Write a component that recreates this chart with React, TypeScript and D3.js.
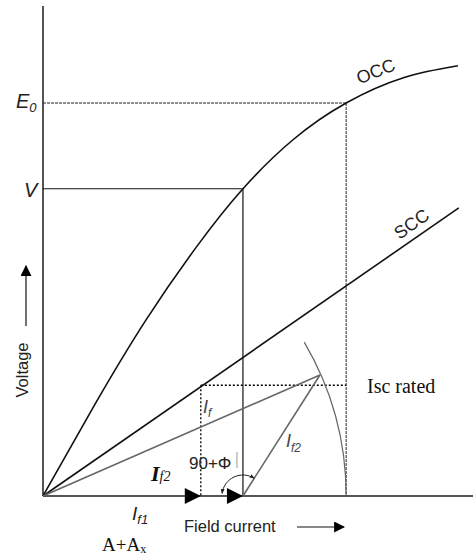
import * as d3 from "d3";

// Open-circuit characteristic (field current units, voltage units)
const occField = [0, 12, 24, 36, 46.5, 58, 70.5, 84, 96.5];
const occVolt = [0, 18.6, 36.0, 51.2, 62.7, 72.6, 80.2, 85.4, 87.8];

// Short-circuit characteristic (straight line)
const sccField = [0, 96.7];
const sccCurrent = [0, 58.8];

// Key operating points
const fieldV = 46.5; // field current giving V on the OCC
const voltV = 62.7;
const fieldE0 = 70.5; // resultant field current giving E0
const voltE0 = 80.2;
const fieldIf1 = 36.7; // field for rated short-circuit current
const iscRated = 22.6;
const phasorTip = { field: 64.4, volt: 24.7 };
const arcSpanDeg = 30.5;

const W = 476;
const H = 555;

const SANS = "'Liberation Sans', Arial, sans-serif";
const SERIF = "'Liberation Serif', 'Times New Roman', serif";

export default function App() {
  const x = d3.scaleLinear().domain([0, 100]).range([43, 473]);
  const y = d3.scaleLinear().domain([0, 100]).range([496, 6]);

  const occData = occField.map((f, i) => [f, occVolt[i]] as [number, number]);
  const sccData = sccField.map((f, i) => [f, sccCurrent[i]] as [number, number]);

  const occLine = d3
    .line<[number, number]>()
    .x((d) => x(d[0]))
    .y((d) => y(d[1]))
    .curve(d3.curveNatural);
  const straight = d3
    .line<[number, number]>()
    .x((d) => x(d[0]))
    .y((d) => y(d[1]));

  const ox = x(0);
  const oy = y(0);

  // big arc centred on the origin through E0's field current
  const r = x(fieldE0) - ox;
  const bigArc = d3.path();
  const a0 = (-arcSpanDeg * Math.PI) / 180;
  bigArc.moveTo(ox + r * Math.cos(a0), oy + r * Math.sin(a0));
  bigArc.arc(ox, oy, r, a0, 0, false);

  // angle arc (90 + phi) at the V field current
  const cx = x(fieldV);
  const tipX = x(phasorTip.field);
  const tipY = y(phasorTip.volt);
  const ang1 = Math.atan2(tipY - oy, tipX - cx);
  const ang2 = (-173 * Math.PI) / 180;
  const ar = 21;
  const angArc = d3.path();
  angArc.moveTo(cx + ar * Math.cos(ang1), oy + ar * Math.sin(ang1));
  angArc.arc(cx, oy, ar, ang1, ang2, true);

  const tri = (tip: number) =>
    `M${tip},${oy} L${tip - 16},${oy - 8} L${tip - 16},${oy + 8} Z`;

  return (
    <svg
      width={W}
      height={H}
      style={{ position: "absolute", left: 0, top: 0, background: "#fff" }}
    >
      <defs>
        <marker
          id="small"
          viewBox="0 0 10 10"
          refX="9"
          refY="5"
          markerWidth="5"
          markerHeight="5"
          orient="auto-start-reverse"
        >
          <path d="M0,1 L10,5 L0,9 Z" fill="#222" />
        </marker>
        <marker
          id="head"
          viewBox="0 0 10 10"
          refX="9"
          refY="5"
          markerWidth="11"
          markerHeight="11"
          markerUnits="userSpaceOnUse"
          orient="auto"
        >
          <path d="M0,0 L10,5 L0,10 Z" fill="#000" />
        </marker>
      </defs>

      {/* Axes */}
      <line x1={ox} y1={y(100)} x2={ox} y2={oy} stroke="#555" strokeWidth={2} />
      <line x1={ox} y1={oy} x2={x(100)} y2={oy} stroke="#555" strokeWidth={2} />

      {/* E0 dashed guides */}
      <line x1={ox} y1={y(voltE0)} x2={x(fieldE0)} y2={y(voltE0)} stroke="#222" strokeWidth={1} strokeDasharray="3,1" />
      <line x1={x(fieldE0)} y1={y(voltE0)} x2={x(fieldE0)} y2={oy} stroke="#222" strokeWidth={1} strokeDasharray="3,1" />

      {/* V guides */}
      <line x1={ox} y1={y(voltV)} x2={x(fieldV)} y2={y(voltV)} stroke="#111" strokeWidth={1.2} />
      <line x1={x(fieldV)} y1={y(voltV)} x2={x(fieldV)} y2={oy} stroke="#111" strokeWidth={1.2} />

      {/* Isc rated dotted guides */}
      <line x1={x(fieldIf1)} y1={y(iscRated)} x2={x(fieldE0)} y2={y(iscRated)} stroke="#000" strokeWidth={1.3} strokeDasharray="2,2" />
      <line x1={x(fieldIf1)} y1={y(iscRated)} x2={x(fieldIf1)} y2={oy} stroke="#000" strokeWidth={1.3} strokeDasharray="2,2" />

      {/* OCC & SCC */}
      <path d={occLine(occData) ?? ""} fill="none" stroke="#111" strokeWidth={1.6} />
      <path d={straight(sccData) ?? ""} fill="none" stroke="#111" strokeWidth={1.6} />

      {/* phasors */}
      <path
        d={straight([[0, 0], [phasorTip.field, phasorTip.volt]]) ?? ""}
        stroke="#666"
        strokeWidth={1.6}
        fill="none"
      />
      <path
        d={straight([[fieldV, 0], [phasorTip.field, phasorTip.volt]]) ?? ""}
        stroke="#666"
        strokeWidth={1.6}
        fill="none"
      />
      <path d={bigArc.toString()} fill="none" stroke="#666" strokeWidth={1.2} />

      {/* bold arrowheads on the field axis */}
      <path d={tri(x(fieldIf1))} fill="#000" />
      <path d={tri(x(fieldV))} fill="#000" />

      {/* angle arc */}
      <path
        d={angArc.toString()}
        fill="none"
        stroke="#222"
        strokeWidth={1}
        markerStart="url(#small)"
        markerEnd="url(#small)"
      />
      <line x1={x(fieldV) - 6} y1={452} x2={x(fieldV) - 6} y2={468} stroke="#999" strokeWidth={1} />

      {/* axis titles with arrows */}
      <text
        transform={`translate(28,370) rotate(-90)`}
        textAnchor="middle"
        fontFamily={SANS}
        fontSize={16.5}
        fill="#222"
      >
        Voltage
      </text>
      <line x1={26} y1={326} x2={26} y2={266} stroke="#111" strokeWidth={1.2} markerEnd="url(#head)" />

      <text x={184} y={532} fontFamily={SANS} fontSize={16.5} fill="#222">
        Field current
      </text>
      <line x1={297} y1={527} x2={344} y2={527} stroke="#111" strokeWidth={1.2} markerEnd="url(#head)" />

      {/* value labels */}
      <text x={16} y={108} fontFamily={SANS} fontStyle="italic" fontSize={20} fill="#222">
        E
        <tspan fontSize={13} dy={4}>
          0
        </tspan>
      </text>
      <text x={24} y={197} fontFamily={SANS} fontStyle="italic" fontSize={20} fill="#222">
        V
      </text>

      <text transform="translate(378,77) rotate(-22)" textAnchor="middle" fontFamily={SANS} fontSize={18} fill="#222">
        OCC
      </text>
      <text transform="translate(415,229) rotate(-35)" textAnchor="middle" fontFamily={SANS} fontSize={18} fill="#222">
        SCC
      </text>

      <text x={367} y={393} fontFamily={SERIF} fontSize={20} fill="#111">
        Isc rated
      </text>

      <text x={203} y={413} fontFamily={SANS} fontStyle="italic" fontSize={18} fill="#444">
        I
        <tspan fontSize={12} dy={4}>
          f
        </tspan>
      </text>
      <text x={286} y={447} fontFamily={SANS} fontStyle="italic" fontSize={18} fill="#444">
        I
        <tspan fontSize={12} dy={5}>
          f2
        </tspan>
      </text>
      <text x={151} y={481} fontFamily={SERIF} fontStyle="italic" fontWeight="bold" fontSize={22} fill="#111">
        I
        <tspan fontSize={14} fontWeight="normal" dy={0}>
          f2
        </tspan>
      </text>
      <text x={189} y={469} fontFamily={SANS} fontSize={17} fill="#222">
        90+Φ
      </text>
      <text x={132} y={520} fontFamily={SANS} fontStyle="italic" fontSize={19} fill="#222">
        I
        <tspan fontSize={13} dy={4}>
          f1
        </tspan>
      </text>
      <text x={102} y={551} fontFamily={SERIF} fontSize={19} fill="#111">
        A+A
        <tspan fontSize={12} dy={2}>
          x
        </tspan>
      </text>
    </svg>
  );
}
